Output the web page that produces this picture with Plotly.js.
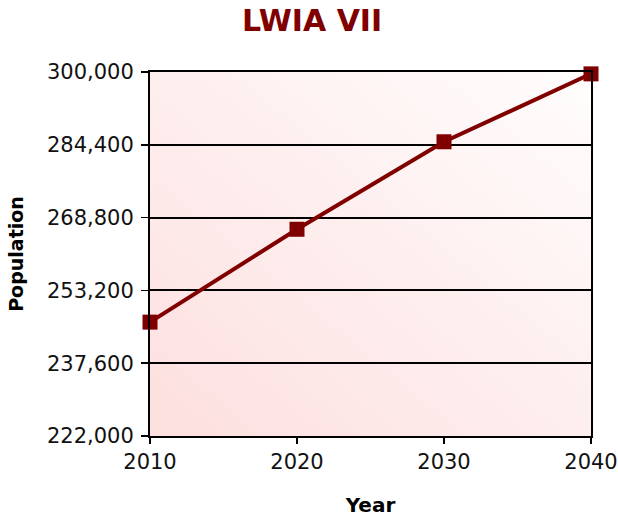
<!DOCTYPE html>
<html>
<head>
<meta charset="utf-8">
<script src="https://cdn.plot.ly/plotly-3.0.1.min.js"></script>
<style>html,body{margin:0;padding:0;background:#fff;}#chart{width:618px;height:517px;}</style>
</head>
<body>
<div id="chart"></div>
<script>
var years = [2010, 2020, 2030, 2040];
var population = [246400, 266300, 285050, 299600];
var yTicks = [222000, 237600, 253200, 268800, 284400, 300000];
var xTicks = [2010, 2020, 2030, 2040];

var grad = '<svg xmlns="http://www.w3.org/2000/svg" width="100" height="100" preserveAspectRatio="none">' +
  '<defs><linearGradient id="g" x1="0" y1="1" x2="1" y2="0">' +
  '<stop offset="0" stop-color="#fddfdf"/><stop offset="1" stop-color="#fffdfd"/></linearGradient></defs>' +
  '<rect width="100" height="100" fill="url(#g)"/></svg>';

var trace = {
  x: years, y: population, type: 'scatter', mode: 'lines+markers',
  line: {color: '#800000', width: 4},
  marker: {symbol: 'square', size: 15, color: '#800000'},
  cliponaxis: false, hoverinfo: 'x+y'
};

var font = 'DejaVu Sans, Verdana, sans-serif';
var layout = {
  width: 618, height: 517,
  margin: {l: 150, r: 27, t: 72, b: 81},
  paper_bgcolor: '#ffffff', plot_bgcolor: 'rgba(0,0,0,0)',
  showlegend: false,
  title: {text: '<b>LWIA VII</b>', x: 0.505, xanchor: 'center', y: 0.96, yanchor: 'middle',
          font: {family: font, size: 30, color: '#800000'}},
  xaxis: {
    range: [2010, 2040], tickvals: xTicks, ticktext: xTicks.map(String),
    showgrid: false, zeroline: false,
    showline: true, linecolor: '#000', linewidth: 2, mirror: true,
    ticks: 'outside', ticklen: 6, tickwidth: 1.5, tickcolor: '#000',
    tickfont: {family: font, size: 21, color: '#111'},
    title: {text: '<b>Year</b>', font: {family: font, size: 20, color: '#000'}, standoff: 25}
  },
  yaxis: {
    range: [222000, 300000], tickvals: yTicks, ticktext: yTicks.map(function(v){return v.toLocaleString('en-US');}),
    showgrid: true, gridcolor: '#000', gridwidth: 2, zeroline: false,
    showline: true, linecolor: '#000', linewidth: 2, mirror: true,
    ticks: 'outside', ticklen: 7, tickwidth: 1.5, tickcolor: '#000',
    ticklabelstandoff: 3,
    tickfont: {family: font, size: 21, color: '#111'},
    title: {text: '<b>Population</b>', font: {family: font, size: 19, color: '#000'}, standoff: 18}
  },
  images: [{
    source: 'data:image/svg+xml;charset=utf-8,' + encodeURIComponent(grad),
    xref: 'paper', yref: 'paper', x: 0, y: 1, sizex: 1, sizey: 1,
    sizing: 'stretch', layer: 'below', xanchor: 'left', yanchor: 'top'
  }]
};

Plotly.newPlot('chart', [trace], layout, {displayModeBar: false, staticPlot: true});
</script>
</body>
</html>
